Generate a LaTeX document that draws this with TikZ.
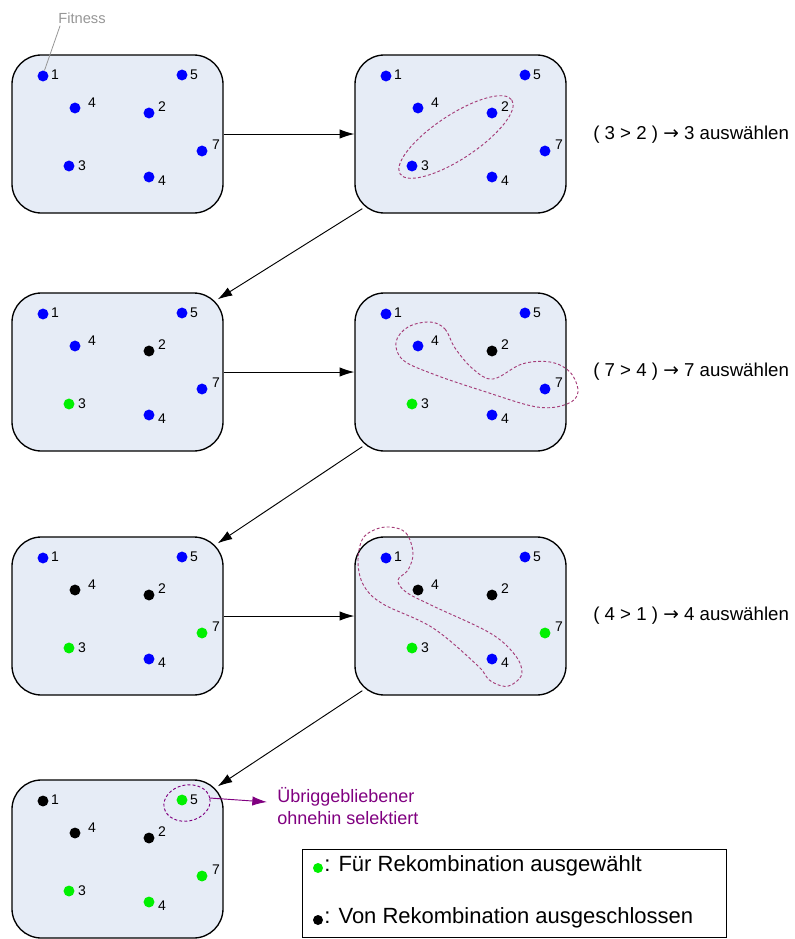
\documentclass[tikz,border=0pt]{standalone}
\usepackage{fontspec}
\setmainfont{Liberation Sans}
\newfontfamily\arrowfont{DejaVu Sans}
\usetikzlibrary{arrows.meta,calc,shapes.geometric}
\definecolor{boxfill}{RGB}{230,236,246}
\definecolor{loopcol}{RGB}{165,60,120}
\definecolor{selblue}{RGB}{0,0,255}
\definecolor{selgreen}{RGB}{0,240,0}
\definecolor{purp}{RGB}{128,0,128}
\definecolor{fitgray}{RGB}{150,150,150}
\tikzset{
 popbox/.style={draw=black, line width=1pt, fill=boxfill, rounded corners=22pt,
   minimum width=158.25pt, minimum height=118.5pt, inner sep=0pt},
 ind/.style={circle, fill=#1, inner sep=0pt, minimum size=8.2pt},
 fitn/.style={font=\fontsize{10.5}{12}\selectfont, inner sep=0pt},
 flow/.style={-{Latex[length=11pt,width=7pt]}, line width=0.7pt},
 selloop/.style={draw=loopcol, dash pattern=on 2.2pt off 1.6pt, line width=0.7pt},
 rlabel/.style={font=\fontsize{14}{16}\selectfont, anchor=west, inner sep=0pt},
 legtext/.style={font=\fontsize{16.5}{19}\selectfont, anchor=west, inner sep=0pt},
}
\newcommand\population[8]{%
 \node[popbox] (#1) at (105.5,79) {};
 \node[ind=#2] (#1d1) at (31,21) {};
 \node[fitn] (#1n1) at (43,20) {1};
 \node[ind=#3] (#1d5) at (170,20) {};
 \node[fitn] (#1n5) at (182,20) {5};
 \node[ind=#4] (#1d4a) at (63,53) {};
 \node[fitn] (#1n4a) at (80,48) {4};
 \node[ind=#5] (#1d2) at (137,58) {};
 \node[fitn] (#1n2) at (150,52) {2};
 \node[ind=#6] (#1d7) at (190,96) {};
 \node[fitn] (#1n7) at (204,90) {7};
 \node[ind=#7] (#1d3) at (57,111) {};
 \node[fitn] (#1n3) at (70,111) {3};
 \node[ind=#8] (#1d4b) at (137,122) {};
 \node[fitn] (#1n4b) at (150,126) {4};
}
\begin{document}
\begin{tikzpicture}[x=0.75pt,y=-0.75pt]
\useasboundingbox (0,0) rectangle (795,939);
% populations
\begin{scope}[shift={(12,55)}]\population{pa}{selblue}{selblue}{selblue}{selblue}{selblue}{selblue}{selblue}\end{scope}
\begin{scope}[shift={(355,55)}]\population{pb}{selblue}{selblue}{selblue}{selblue}{selblue}{selblue}{selblue}\end{scope}
\begin{scope}[shift={(12,293)}]\population{pc}{selblue}{selblue}{selblue}{black}{selblue}{selgreen}{selblue}\end{scope}
\begin{scope}[shift={(355,293)}]\population{pd}{selblue}{selblue}{selblue}{black}{selblue}{selgreen}{selblue}\end{scope}
\begin{scope}[shift={(12,537)}]\population{pe}{selblue}{selblue}{black}{black}{selgreen}{selgreen}{selblue}\end{scope}
\begin{scope}[shift={(355,537)}]\population{pf}{selblue}{selblue}{black}{black}{selgreen}{selgreen}{selblue}\end{scope}
\begin{scope}[shift={(12,780)}]\population{pg}{black}{selgreen}{black}{black}{selgreen}{selgreen}{selgreen}\end{scope}
% connectors
\draw[flow] (pa.east) -- (pb.west);
\draw[flow] ($(pb.south west)+(8,-5)$) -- ($(pc.north east)+(-6,7)$);
\draw[flow] (pc.east) -- (pd.west);
\draw[flow] ($(pd.south west)+(8,-5)$) -- ($(pe.north east)+(-6,7)$);
\draw[flow] (pe.east) -- (pf.west);
\draw[flow] ($(pf.south west)+(8,-5)$) -- ($(pg.north east)+(-6,7)$);
% fitness annotation
\node[text=fitgray, font=\fontsize{11}{12}\selectfont, inner sep=0pt] (fitness) at (82,18) {Fitness};
\draw[fitgray, line width=0.6pt] ($(fitness.south west)+(2,2)$) -- (pad1.75);
% selection loops
\begin{scope}[shift={(456,137)}, rotate=33.5]
 \draw[selloop] (0,0) ellipse (67 and 22);
\end{scope}
\draw[selloop] plot[smooth cycle, tension=0.6] coordinates {
 (430,322) (445,329) (455,348) (473,369) (493,379) (522,364) (550,362) (570,372)
 (578,392) (567,404) (537,407) (483,391) (433,374) (403,360) (396,342) (408,327)};
\draw[selloop] plot[smooth cycle, tension=0.6] coordinates {
 (390,527) (406,533) (413,553) (408,570) (398,580) (406,592) (433,606) (490,633)
 (515,655) (522,673) (513,684) (502,686) (488,679) (478,666) (433,628) (383,604)
 (364,586) (358,563) (362,540) (374,530)};
% remaining individual
\node[ellipse, selloop, draw=purp, minimum width=35pt, minimum height=27pt, inner sep=0pt, rotate=12] (rest) at (187,803) {};
\node[text=purp, font=\fontsize{13.5}{16.5}\selectfont, align=left, anchor=west, inner sep=0pt] (resttext) at (277,806) {Übriggebliebener\\ohnehin selektiert};
\draw[purp, -{Latex[length=11pt,width=7pt]}, line width=0.7pt] (rest.east) -- ($(resttext.west)+(-10,-4)$);
% right-hand explanations
\node[rlabel] (ra) at (593,135) {( 3 > 2 ) {\arrowfont →} 3 auswählen};
\node[rlabel] (rb) at (593,372) {( 7 > 4 ) {\arrowfont →} 7 auswählen};
\node[rlabel] (rc) at (593,616) {( 4 > 1 ) {\arrowfont →} 4 auswählen};
% legend
\node[draw=black, line width=0.7pt, minimum width=318pt, minimum height=66.5pt, inner sep=0pt] (legend) at (514,893.5) {};
\node[circle, fill=selgreen, inner sep=0pt, minimum size=7.5pt] (lgdot) at (318,868) {};
\node[legtext] (lgtext) at (324,866) {: Für Rekombination ausgewählt};
\node[circle, fill=black, inner sep=0pt, minimum size=7.5pt] (lkdot) at (318,920) {};
\node[legtext] (lktext) at (324,918) {: Von Rekombination ausgeschlossen};
\end{tikzpicture}
\end{document}
